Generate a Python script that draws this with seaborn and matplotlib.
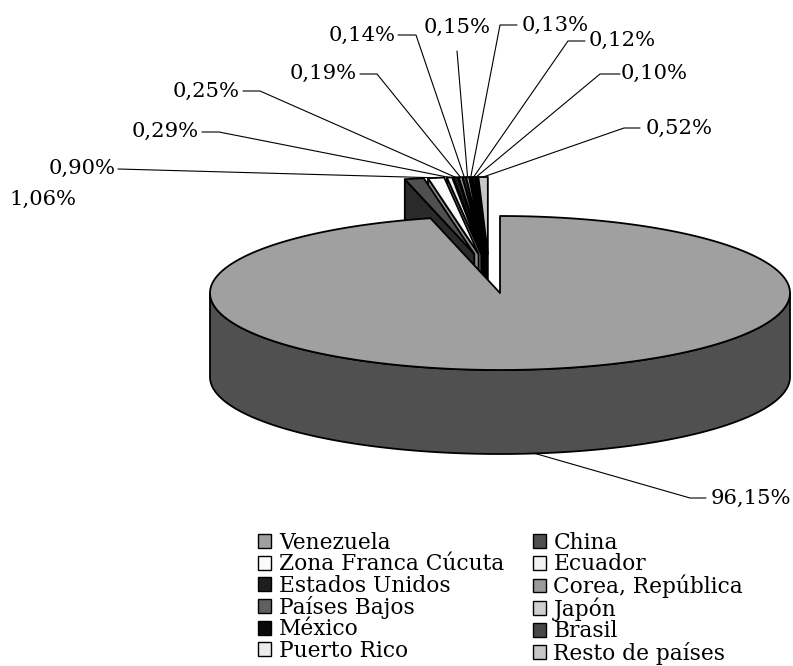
"""Exportaciones por país de destino: torta 3D con porciones separadas."""
import matplotlib

matplotlib.use("Agg")
import matplotlib.pyplot as plt
import numpy as np
import seaborn as sns
from matplotlib.patches import Patch

paises = ["Venezuela", "China", "Zona Franca Cúcuta", "Ecuador", "Estados Unidos", "Corea, República",
          "Países Bajos", "Japón", "México", "Brasil", "Puerto Rico", "Resto de países"]
participacion = [96.15, 1.06, 0.90, 0.29, 0.25, 0.19, 0.14, 0.15, 0.13, 0.12, 0.10, 0.52]
colores = ["#a0a0a0", "#4f4f4f", "#fbfbfb", "#f2f2f2", "#1e1e1e", "#9a9a9a",
           "#606060", "#cfcfcf", "#0a0a0a", "#484848", "#ececec", "#c6c6c6"]
colores_pared = ["#505050", "#2a2a2a", "#8c8c8c", "#888888", "#0f0f0f", "#4d4d4d",
                 "#303030", "#686868", "#050505", "#242424", "#767676", "#636363"]

# geometría en pixeles de la figura
CX, CY = 500, 293
RX, RY = 290, 77
DEPTH = 84

# etiqueta: posición del texto y codo de la línea guía (None = sin línea)
pos_etiquetas = [(751, 498), (43, 199), (82, 168), (165, 131), (206, 91), (323, 73),
                 (362, 35), (457, 27), (555, 25), (622, 40), (654, 73), (679, 128)]
codos = [[(706, 498), (690, 498)], None, [(118, 169)], [(202, 132), (219, 132)], [(243, 91), (260, 91)],
         [(360, 74), (377, 74)], [(398, 35), (416, 35)], [(457, 51)], [(517, 25), (500, 25)],
         [(585, 41), (568, 41)], [(620, 74), (600, 74)], [(640, 128), (624, 128)]]


def punto(theta, centro):
    return centro[0] + RX * np.sin(theta), centro[1] - RY * np.cos(theta)


def arco(t0, t1, centro, dy=0):
    t = np.linspace(t0, t1, max(int(abs(t1 - t0) * 90), 3))
    x, y = punto(t, centro)
    return np.column_stack([x, y + dy])


def centro_porcion(theta_medio):
    # las porciones pequeñas se separan hacia arriba del centro
    s = np.sin(theta_medio)
    return CX - 11 + 0.245 * RX * s, CY - 39


sns.set_theme(style="white")
plt.rcParams["font.family"] = ["DejaVu Serif"]

fig = plt.figure(figsize=(7.93, 6.66), dpi=100)
ax = fig.add_axes([0, 0, 1, 1])
ax.set_xlim(0, 793)
ax.set_ylim(666, 0)
ax.axis("off")

limites = np.cumsum([0] + participacion) / 100 * 2 * np.pi
tramos = list(zip(limites[:-1], limites[1:]))
borde = dict(edgecolor="black", linewidth=1.3, joinstyle="round")

# porciones separadas: primero las paredes y luego las caras
centros = [(CX, CY)] + [centro_porcion((a + b) / 2 - 2 * np.pi) for a, b in tramos[1:]]
for i in range(len(paises) - 1, 0, -1):
    a, b = tramos[i]
    c = centros[i]
    ex, ey = punto(a, c)
    ax.fill([ex, ex, c[0], c[0]], [ey, ey + DEPTH, c[1] + DEPTH, c[1]], facecolor=colores_pared[i], **borde)
for i in range(1, len(paises)):
    a, b = tramos[i]
    c = centros[i]
    cara = np.vstack([[c], arco(a, b, c)])
    ax.fill(cara[:, 0], cara[:, 1], facecolor=colores[i], **borde)

# porción principal
a, b = tramos[0]
sup = arco(np.pi / 2, 3 * np.pi / 2, (CX, CY))
inf = arco(3 * np.pi / 2, np.pi / 2, (CX, CY), DEPTH)
pared = np.vstack([sup, inf])
ax.fill(pared[:, 0], pared[:, 1], facecolor=colores_pared[0], **borde)
cara = np.vstack([[(CX, CY)], arco(a, b, (CX, CY))])
ax.fill(cara[:, 0], cara[:, 1], facecolor=colores[0], **borde)

# etiquetas y líneas guía
for i, valor in enumerate(participacion):
    texto = f"{valor:.2f}%".replace(".", ",")
    ax.text(*pos_etiquetas[i], texto, ha="center", va="center", fontsize=15.2, color="black")
    if codos[i] is None:
        continue
    medio = (tramos[i][0] + tramos[i][1]) / 2
    fin = punto(medio, centros[i])
    if i == 0:
        fin = (fin[0], fin[1] + DEPTH)
    xs, ys = zip(*(codos[i] + [fin]))
    ax.plot(xs, ys, color="black", lw=0.8, zorder=5)

# leyenda: se lee por filas
orden = list(range(0, 12, 2)) + list(range(1, 12, 2))
handles = [Patch(facecolor=colores[i], edgecolor="black", linewidth=1.0) for i in orden]
etiquetas = [paises[i] for i in orden]
ax.legend(handles, etiquetas, ncol=2, frameon=False, fontsize=15.7, loc="upper left", labelcolor="black",
          bbox_to_anchor=(258 / 793, 1 - 532 / 666), borderpad=0, borderaxespad=0, labelspacing=-0.03,
          handlelength=0.6, handleheight=0.6, handletextpad=0.36, columnspacing=1.3)

fig.savefig("out.png", dpi=100)
